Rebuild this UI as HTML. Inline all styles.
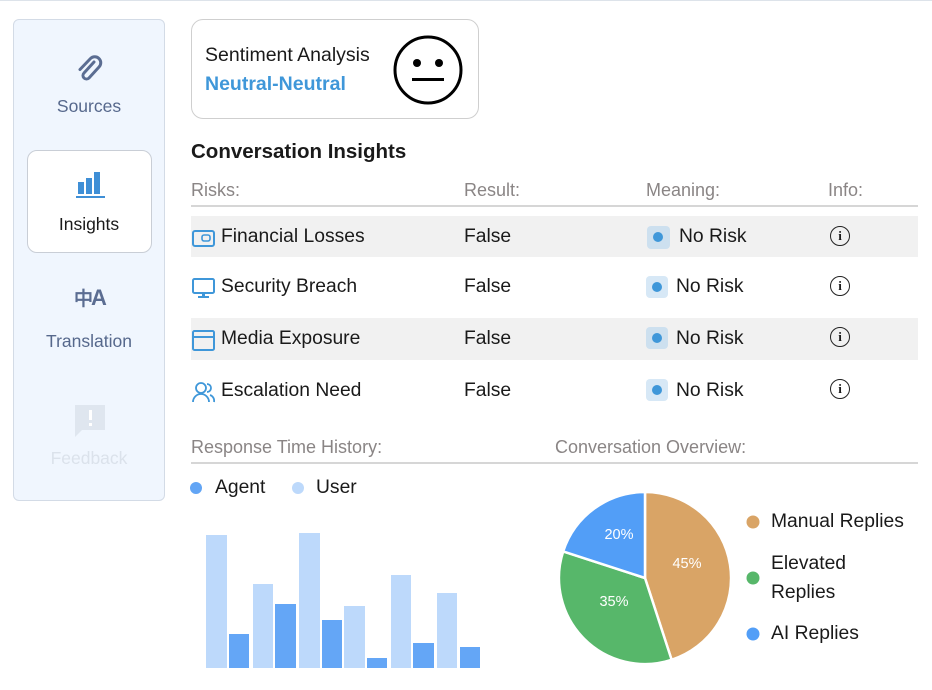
<!DOCTYPE html>
<html><head><meta charset="utf-8"><style>
body{margin:0;width:932px;height:690px;background:#fff;font-family:"Liberation Sans",Arial,sans-serif;position:relative;overflow:hidden;color:#1a1a1a}
.abs{position:absolute}
.topline{left:0;top:0;width:932px;height:1px;background:#dde3ea}
.side{left:13px;top:19px;width:152px;height:482px;background:#f0f6fe;border:1px solid #d3dbe6;border-radius:6px;box-sizing:border-box}
.lbl{font-size:17.5px;text-align:center;width:152px;left:13px}
.card{left:191px;top:19px;width:288px;height:100px;border:1px solid #cfcfcf;border-radius:12px;box-sizing:border-box}
.hdr{font-size:18px;color:#8a8585}
.row{font-size:19.3px}
.bg{left:191px;width:727px;background:#f1f1f1}
.pill{width:22px;height:22px;border-radius:4px;background:#d7e8f6}
.pill:after{content:"";position:absolute;left:6px;top:6px;width:10px;height:10px;border-radius:50%;background:#3f97d9}
.info{width:18px;height:18px;border:1.5px solid #222;border-radius:50%;font-size:13px;text-align:center;line-height:18px;font-family:"Liberation Serif",serif;font-weight:bold}
</style></head><body>
<div class="abs topline"></div>
<div class="abs side"></div>
<svg class="abs" style="left:74px;top:54px" width="32" height="32" viewBox="0 0 32 32"><path d="M20 8 L10 19 a3.5 3.5 0 0 0 5 5 L25 13 a6 6 0 0 0 -8.5 -8.5 L6 15.5" fill="none" stroke="#5b6d92" stroke-width="3" stroke-linecap="round"/></svg>
<div class="abs lbl" style="top:96px;color:#56688c">Sources</div>
<div class="abs" style="left:27px;top:150px;width:125px;height:103px;background:#fff;border:1px solid #c9ced6;border-radius:10px;box-sizing:border-box"></div>
<svg class="abs" style="left:76px;top:170px" width="30" height="30"><rect x="2" y="12" width="6" height="12" fill="#3f8fd6"/><rect x="10" y="8" width="6" height="16" fill="#3f8fd6"/><rect x="18" y="2" width="6" height="22" fill="#3f8fd6"/><rect x="0" y="26" width="29" height="2" fill="#3f8fd6"/></svg>
<div class="abs lbl" style="top:214px;color:#1a1a1a">Insights</div>
<div class="abs" style="left:74px;top:284px;font-size:19px;font-weight:bold;color:#5b6d92;letter-spacing:-2px">中<span style="font-size:22px">A</span></div>
<div class="abs lbl" style="top:331px;color:#56688c">Translation</div>
<svg class="abs" style="left:74px;top:404px" width="32" height="34"><path d="M1 1 H31 V26 H8 L1 33 Z" fill="#dfe6ef"/><rect x="15" y="6" width="3" height="10" fill="#fff"/><rect x="15" y="19" width="3" height="3" fill="#fff"/></svg>
<div class="abs lbl" style="top:448px;color:#dbe2eb">Feedback</div>

<div class="abs card"></div>
<div class="abs" style="left:205px;top:44px;font-size:19.5px">Sentiment Analysis</div>
<div class="abs" style="left:205px;top:73px;font-size:19.5px;font-weight:bold;color:#3f97d9">Neutral-Neutral</div>
<svg class="abs" style="left:392px;top:34px" width="72" height="72"><circle cx="36" cy="36" r="33" fill="none" stroke="#000" stroke-width="3"/><circle cx="25" cy="29" r="4"/><circle cx="47" cy="29" r="4"/><rect x="20" y="44" width="32" height="3"/></svg>

<div class="abs" style="left:191px;top:140px;font-size:20.5px;font-weight:bold">Conversation Insights</div>
<div class="abs hdr" style="left:191px;top:180px">Risks:</div>
<div class="abs hdr" style="left:464px;top:180px">Result:</div>
<div class="abs hdr" style="left:646px;top:180px">Meaning:</div>
<div class="abs hdr" style="left:828px;top:180px">Info:</div>
<div class="abs" style="left:191px;top:205px;width:727px;height:2px;background:#d6d6d6"></div>
<div class="abs bg" style="top:216px;height:41px"></div>
<div class="abs bg" style="top:318px;height:42px"></div>

<svg class="abs" style="left:192px;top:228px" width="24" height="20"><rect x="1" y="3" width="21" height="15" rx="2" fill="none" stroke="#3f97d9" stroke-width="2"/><rect x="10" y="7" width="8" height="6" rx="2" fill="none" stroke="#3f97d9" stroke-width="1.6"/></svg>
<div class="abs row" style="left:221px;top:226px">Financial Losses</div>
<svg class="abs" style="left:192px;top:277px" width="24" height="22"><rect x="1" y="2" width="21" height="14" rx="1.5" fill="none" stroke="#3f97d9" stroke-width="2"/><rect x="10" y="16" width="3" height="3" fill="#3f97d9"/><rect x="6" y="19" width="11" height="2" fill="#3f97d9"/></svg>
<div class="abs row" style="left:221px;top:276px">Security Breach</div>
<svg class="abs" style="left:192px;top:330px" width="24" height="22"><rect x="1" y="1" width="21" height="19" rx="1.5" fill="none" stroke="#3f97d9" stroke-width="2"/><rect x="1" y="6" width="21" height="2" fill="#3f97d9"/></svg>
<div class="abs row" style="left:221px;top:328px">Media Exposure</div>
<svg class="abs" style="left:192px;top:381px" width="24" height="22"><circle cx="9" cy="7" r="5" fill="none" stroke="#3f97d9" stroke-width="1.8"/><path d="M1 21 a8 8 0 0 1 16 0" fill="none" stroke="#3f97d9" stroke-width="1.8"/><path d="M15 3 a4 4 0 0 1 0 8 M18 14 a6 6 0 0 1 4 7" fill="none" stroke="#3f97d9" stroke-width="1.8"/></svg>
<div class="abs row" style="left:221px;top:380px">Escalation Need</div>

<div class="abs row" style="left:464px;top:226px">False</div>
<div class="abs row" style="left:464px;top:276px">False</div>
<div class="abs row" style="left:464px;top:328px">False</div>
<div class="abs row" style="left:464px;top:380px">False</div>

<div class="abs pill" style="left:647px;top:226px;width:23px;height:23px;background:#cde0ef"></div>
<div class="abs row" style="left:679px;top:226px">No Risk</div>
<div class="abs pill" style="left:646px;top:276px"></div>
<div class="abs row" style="left:676px;top:276px">No Risk</div>
<div class="abs pill" style="left:646px;top:327px;background:#cde0ef"></div>
<div class="abs row" style="left:676px;top:328px">No Risk</div>
<div class="abs pill" style="left:646px;top:379px"></div>
<div class="abs row" style="left:676px;top:380px">No Risk</div>

<div class="abs info" style="left:830px;top:226px">i</div>
<div class="abs info" style="left:830px;top:276px">i</div>
<div class="abs info" style="left:830px;top:327px">i</div>
<div class="abs info" style="left:830px;top:379px">i</div>

<div class="abs hdr" style="left:191px;top:437px">Response Time History:</div>
<div class="abs hdr" style="left:555px;top:437px">Conversation Overview:</div>
<div class="abs" style="left:191px;top:462px;width:727px;height:2px;background:#d6d6d6"></div>

<div class="abs" style="left:190px;top:482px;width:12px;height:12px;border-radius:50%;background:#62a5f5"></div>
<div class="abs row" style="left:215px;top:477px">Agent</div>
<div class="abs" style="left:292px;top:482px;width:12px;height:12px;border-radius:50%;background:#bdd9fb"></div>
<div class="abs row" style="left:316px;top:477px">User</div>

<svg class="abs" style="left:0;top:0" width="932" height="690">
<g fill="#bdd9fb"><rect x="206" y="535" width="21" height="133"/><rect x="253" y="584" width="20" height="84"/><rect x="299" y="533" width="21" height="135"/><rect x="344" y="606" width="21" height="62"/><rect x="391" y="575" width="20" height="93"/><rect x="437" y="593" width="20" height="75"/></g>
<g fill="#64a6f6"><rect x="229" y="634" width="20" height="34"/><rect x="275" y="604" width="21" height="64"/><rect x="322" y="620" width="20" height="48"/><rect x="367" y="658" width="20" height="10"/><rect x="413" y="643" width="21" height="25"/><rect x="460" y="647" width="20" height="21"/></g>
<g stroke="#fff" stroke-width="2.5">
<path d="M645 578 L645 492 A86 86 0 0 1 671.6 659.8 Z" fill="#d9a466"/>
<path d="M645 578 L671.6 659.8 A86 86 0 0 1 563.2 551.4 Z" fill="#57b76a"/>
<path d="M645 578 L563.2 551.4 A86 86 0 0 1 645 492 Z" fill="#529ef7"/>
</g>
<g fill="#fff" font-size="14.5" font-family="Liberation Sans,Arial,sans-serif" text-anchor="middle">
<text x="687" y="568">45%</text><text x="614" y="606">35%</text><text x="619" y="539">20%</text></g>
<circle cx="753" cy="522" r="6.5" fill="#d9a466"/>
<circle cx="753" cy="578" r="6.5" fill="#57b76a"/>
<circle cx="753" cy="634" r="6.5" fill="#529ef7"/>
</svg>
<div class="abs row" style="left:771px;top:511px">Manual Replies</div>
<div class="abs row" style="left:771px;top:549px;line-height:29px">Elevated<br>Replies</div>
<div class="abs row" style="left:771px;top:623px">AI Replies</div>
</body></html>
